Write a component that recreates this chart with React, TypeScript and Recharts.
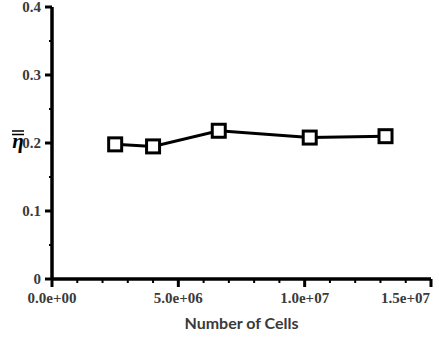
import { LineChart, Line, XAxis, YAxis } from 'recharts';

const cells = [2.5e6, 4.0e6, 6.6e6, 1.02e7, 1.32e7];
const etaBar = [0.198, 0.195, 0.218, 0.208, 0.21];

const xTicks = [0, 1e6, 2e6, 3e6, 4e6, 5e6, 6e6, 7e6, 8e6, 9e6, 1e7, 1.1e7, 1.2e7, 1.3e7, 1.4e7, 1.5e7];
const xMajor = [0, 5e6, 1e7, 1.5e7];
const xLabels = ['0.0e+00', '5.0e+06', '1.0e+07', '1.5e+07'];
const yTicks = [0, 0.05, 0.1, 0.15, 0.2, 0.25, 0.3, 0.35, 0.4];
const yMajor = [0, 0.1, 0.2, 0.3, 0.4];
const yLabels = ['0', '0.1', '0.2', '0.3', '0.4'];

const data = cells.map((c, i) => ({ cells: c, eta: etaBar[i] }));

const tickColor = '#3a3a3a';
const serifStyle = { fontFamily: "'Liberation Serif', 'DejaVu Serif', serif" };

function XTick(props: any) {
  const { x, y, payload } = props;
  const idx = xMajor.indexOf(payload.value);
  const major = idx >= 0;
  const last = idx === xMajor.length - 1;
  return (
    <g>
      <line x1={x} x2={x} y1={y} y2={y + (major ? 8 : 4)} stroke="#000" strokeWidth={major ? 3 : 2} />
      {major && (
        <text
          x={last ? x - 1 : x}
          y={y + 24}
          textAnchor={last ? 'end' : 'middle'}
          style={serifStyle}
          fontWeight="bold"
          fontSize={15}
          fill={tickColor}
        >
          {xLabels[idx]}
        </text>
      )}
    </g>
  );
}

function YTick(props: any) {
  const { x, y, payload } = props;
  const idx = yMajor.findIndex((v) => Math.abs(v - payload.value) < 1e-9);
  const major = idx >= 0;
  return (
    <g>
      <line x1={x} x2={x - (major ? 7 : 3)} y1={y} y2={y} stroke="#000" strokeWidth={major ? 3 : 2} />
      {major && (
        <text x={x - 11} y={y + 5} textAnchor="end" style={serifStyle} fontWeight="bold" fontSize={15} fill={tickColor}>
          {yLabels[idx]}
        </text>
      )}
    </g>
  );
}

function SquareDot(props: any) {
  const { cx, cy, index } = props;
  if (cx == null || cy == null) return null;
  return <rect key={index} x={cx - 6.5} y={cy - 6.5} width={13} height={13} fill="#fff" stroke="#000" strokeWidth={3} />;
}

function EtaLabel() {
  return (
    <g>
      <line x1={12} x2={24} y1={131} y2={131} stroke="#000" strokeWidth={1.5} />
      <line x1={12} x2={24} y1={134.5} y2={134.5} stroke="#000" strokeWidth={1.5} />
      <text x={18} y={148} textAnchor="middle" style={serifStyle} fontStyle="italic" fontWeight="bold" fontSize={21} fill="#000">
        η
      </text>
    </g>
  );
}

export default function App() {
  return (
    <div style={{ position: 'absolute', left: 0, top: 0, width: 439, height: 340, background: '#fff' }}>
      <LineChart width={439} height={340} data={data} margin={{ top: 7, right: 8, left: 0, bottom: 0 }}>
        <XAxis
          dataKey="cells"
          type="number"
          domain={[0, 1.5e7]}
          ticks={xTicks}
          interval={0}
          tickSize={0}
          tickMargin={0}
          tickLine={false}
          axisLine={{ stroke: '#000', strokeWidth: 3.5 }}
          tick={<XTick />}
          height={61}
          label={{ value: 'Number of Cells', position: 'insideBottom', offset: 11, fill: tickColor, fontFamily: 'Lato, sans-serif', fontWeight: 'bold', fontSize: 16 }}
        />
        <XAxis xAxisId="top" orientation="top" dataKey="cells" type="number" domain={[0, 1.5e7]} height={0} tick={false} tickLine={false} axisLine={{ stroke: '#000', strokeWidth: 3 }} />
        <YAxis
          type="number"
          domain={[0, 0.4]}
          ticks={yTicks}
          interval={0}
          tickSize={0}
          tickMargin={0}
          tickLine={false}
          axisLine={{ stroke: '#000', strokeWidth: 3.5 }}
          tick={<YTick />}
          width={52}
          label={<EtaLabel />}
        />
        <YAxis yAxisId="right" orientation="right" type="number" domain={[0, 0.4]} width={0} tick={false} tickLine={false} axisLine={{ stroke: '#000', strokeWidth: 3 }} />
        <Line
          type="linear"
          dataKey="eta"
          stroke="#000"
          strokeWidth={3}
          dot={<SquareDot />}
          activeDot={false}
          isAnimationActive={false}
        />
      </LineChart>
    </div>
  );
}
